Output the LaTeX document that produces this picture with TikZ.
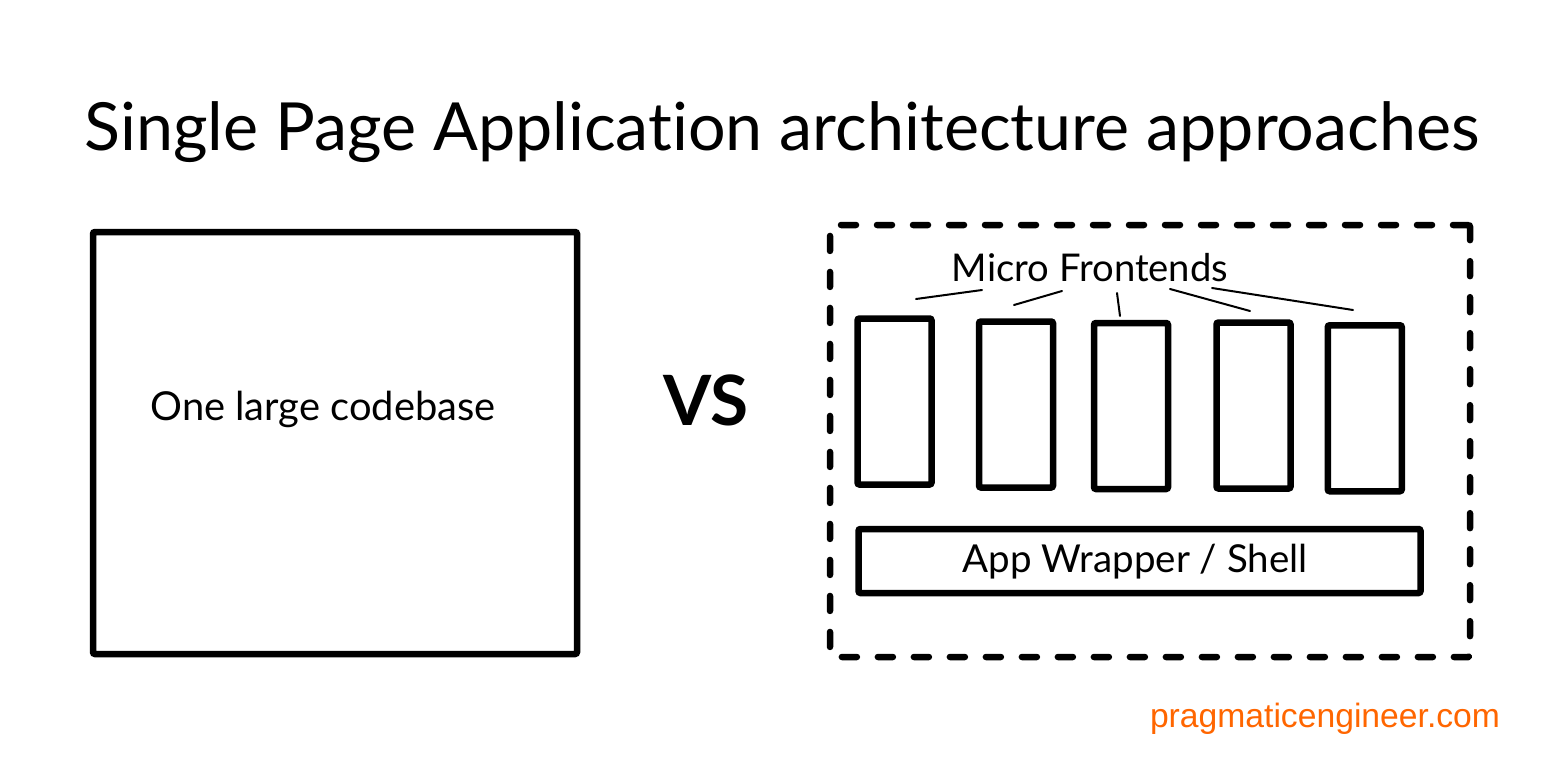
\documentclass[tikz,border=0pt]{standalone}
\usepackage{fontspec}
\setmainfont{Lato}[Ligatures={NoCommon}]
\newfontfamily\webfont{Liberation Sans}
\definecolor{peorange}{RGB}{255,102,0}
\begin{document}
\begin{tikzpicture}[x=1pt,y=-1pt,
  box/.style={draw=black, line width=6.5pt, rounded corners=2pt, inner sep=0pt, fill=white},
  mfbox/.style={box, minimum width=74pt, minimum height=166pt},
  dashbox/.style={draw=black, line width=6.5pt, line cap=round, dash pattern=on 15pt off 21pt, rounded corners=2pt, inner sep=0pt, minimum width=640pt, minimum height=432pt},
  lbl/.style={inner sep=0pt, anchor=base, text=black},
  pointer/.style={draw=black, line width=2pt, line cap=round}
]
\useasboundingbox (0,0) rectangle (1544,784);
\fill[white] (0,0) rectangle (1544,784);

\node[lbl] (title) at (782,150) {\resizebox{1395pt}{!}{Single Page Application architecture approaches}};

\node[box, minimum width=484pt, minimum height=422pt] (mono) at (335,443) {};
\node[lbl] (monotext) at (323,420) {\resizebox{345pt}{!}{One large codebase}};

\node[lbl] (vs) at (706,425) {\resizebox{85pt}{!}{\bfseries VS}};

\node[dashbox] (outer) at (1150,441) {};

\node[mfbox] (mf1) at (894.5,401.5) {};
\node[mfbox] (mf2) at (1016,404.5) {};
\node[mfbox] (mf3) at (1131,406) {};
\node[mfbox] (mf4) at (1253.5,405.5) {};
\node[mfbox] (mf5) at (1364.75,408.25) {};

\node[box, minimum width=562pt, minimum height=64pt] (shell) at (1139.5,561) {};
\node[lbl] (shelltext) at (1135,572) {\resizebox{345pt}{!}{App Wrapper / Shell}};

\node[lbl] (mftext) at (1090,281) {\resizebox{276pt}{!}{Micro Frontends}};

\coordinate (p1a) at (982,290); \coordinate (p1b) at (916,299);
\coordinate (p2a) at (1062,291); \coordinate (p2b) at (1014,305);
\coordinate (p3a) at (1117,293); \coordinate (p3b) at (1120,316);
\coordinate (p4a) at (1170,289); \coordinate (p4b) at (1250,311);
\coordinate (p5a) at (1212,288); \coordinate (p5b) at (1353,310);
\draw[pointer] (p1a) -- (p1b);
\draw[pointer] (p2a) -- (p2b);
\draw[pointer] (p3a) -- (p3b);
\draw[pointer] (p4a) -- (p4b);
\draw[pointer] (p5a) -- (p5b);

\node[lbl] (site) at (1325,727) {\resizebox{350pt}{!}{\webfont\color{peorange}pragmaticengineer.com}};
\end{tikzpicture}
\end{document}
